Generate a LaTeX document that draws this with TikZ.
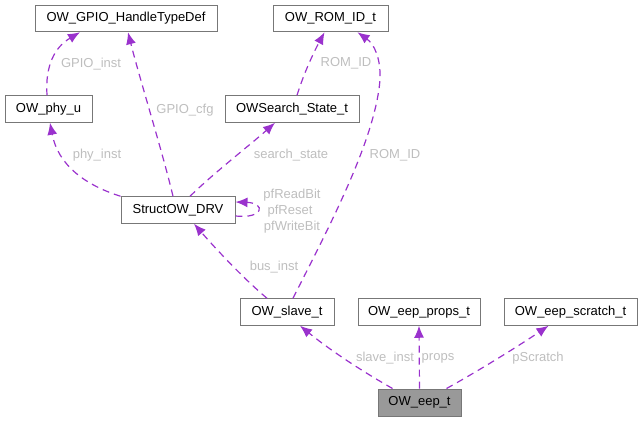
\documentclass[tikz,border=0pt]{standalone}
\usepackage{fontspec}
\setmainfont{Liberation Sans}
\usetikzlibrary{arrows.meta}
\definecolor{edgec}{HTML}{9A32CD}
\definecolor{boxc}{HTML}{777777}
\definecolor{labc}{HTML}{BEBEBE}
\definecolor{mainfill}{HTML}{999999}
\tikzset{
  box/.style={draw=boxc, line width=1pt, fill=white, rectangle, minimum height=26.5pt, inner sep=0pt, font=\fontsize{13}{15}\selectfont, text=black},
  mainbox/.style={box, fill=mainfill},
  edge/.style={draw=edgec, line width=1.2pt, dash pattern=on 7pt off 5pt, -{Latex[length=12pt,width=10pt]}},
  lab/.style={text=labc, font=\fontsize{13}{15}\selectfont, inner sep=0pt}
}
\begin{document}
\begin{tikzpicture}[x=1pt,y=-1pt]
\useasboundingbox (0,0) rectangle (643,421);
\node[box, minimum width=182pt] (gpio) at (126,18.5) {OW\_GPIO\_HandleTypeDef};
\node[box, minimum width=115pt] (rom) at (330.5,18.5) {OW\_ROM\_ID\_t};
\node[box, minimum width=87pt] (phy) at (48.5,109) {OW\_phy\_u};
\node[box, minimum width=134pt] (search) at (292,109) {OWSearch\_State\_t};
\node[box, minimum width=114pt] (drv) at (178,210) {StructOW\_DRV};
\node[box, minimum width=94pt] (slave) at (287,312) {OW\_slave\_t};
\node[box, minimum width=122pt] (props) at (419,312) {OW\_eep\_props\_t};
\node[box, minimum width=133pt] (scratch) at (570.5,312) {OW\_eep\_scratch\_t};
\node[mainbox, minimum width=83pt, minimum height=27pt] (eep) at (419.5,402.5) {OW\_eep\_t};

% edges
\draw[edge] ([xshift=-1.5pt]phy.north) .. controls (45,65) and (55,47) .. ([xshift=-46pt]gpio.south);
\draw[edge] (drv.north west) .. controls (85,185) and (58,165) .. ([xshift=1.5pt]phy.south);
\draw[edge] ([xshift=-5pt]drv.north) .. controls (162,150) and (140,80) .. ([xshift=2pt]gpio.south);
\draw[edge] ([xshift=12pt]drv.north) .. controls (215,172) and (250,145) .. ([xshift=-17pt]search.south);
\draw[edge] ([xshift=5pt]search.north) .. controls (305,70) and (315,50) .. ([xshift=-6pt]rom.south);
\draw[edge] ([yshift=-6pt]drv.east) .. controls (264,219) and (266,203) .. ([yshift=8pt]drv.east);
\draw[edge] ([xshift=-20pt]slave.north) .. controls (245,280) and (215,248) .. ([xshift=16pt]drv.south);
\draw[edge] ([xshift=6pt]slave.north) .. controls (330,225) and (375,140) .. (380,80) .. controls (381,58) and (374,44) .. ([xshift=27pt]rom.south);
\draw[edge] ([xshift=-27pt]eep.north) .. controls (360,370) and (330,350) .. ([xshift=13pt]slave.south);
\draw[edge] (eep.north) -- (props.south);
\draw[edge] ([xshift=27pt]eep.north) .. controls (480,370) and (520,345) .. ([xshift=-22pt]scratch.south);

% labels
\node[lab] (l1) at (91,64) {GPIO\_inst};
\node[lab] (l2) at (97,155) {phy\_inst};
\node[lab] (l3) at (185,110) {GPIO\_cfg};
\node[lab] (l4) at (291,155) {search\_state};
\node[lab] (l5) at (346,63) {ROM\_ID};
\node[lab] (l6) at (395,155) {ROM\_ID};
\node[lab] (l7) at (292,195) {pfReadBit};
\node[lab] (l8) at (290,211) {pfReset};
\node[lab] (l9) at (292,227) {pfWriteBit};
\node[lab] (l10) at (274,267) {bus\_inst};
\node[lab] (l11) at (385,358) {slave\_inst};
\node[lab] (l12) at (438,358) {props};
\node[lab] (l13) at (538,358) {pScratch};
\end{tikzpicture}
\end{document}
